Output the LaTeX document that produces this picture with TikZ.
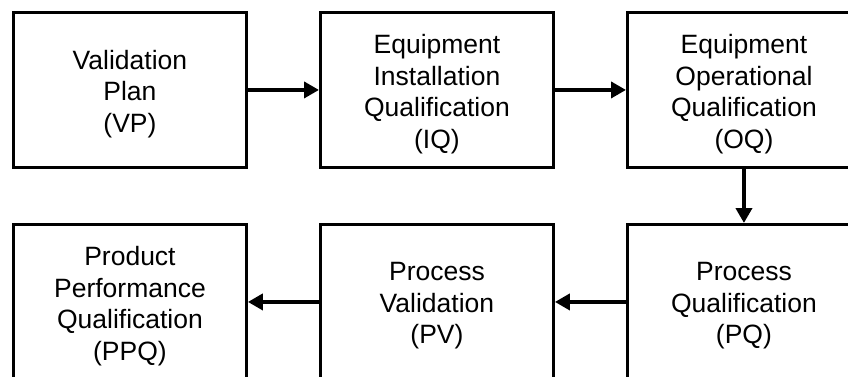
\documentclass[tikz,border=0pt]{standalone}
\usepackage{fontspec}
\setmainfont{Liberation Sans}
\usetikzlibrary{arrows.meta}
\begin{document}
\begin{tikzpicture}[x=1pt,y=-1pt,
  stage/.style={draw=black, line width=2.9pt, minimum width=233pt, minimum height=155pt,
    inner sep=0pt, anchor=north west},
  caption/.style={align=center, inner sep=0pt, font=\fontsize{26.5}{31.6}\selectfont},
  flow/.style={line width=3.8pt, -{Triangle[length=15pt,width=16pt]}}]
\useasboundingbox (0,0) rectangle (848,377);
\clip (0,0) rectangle (848,377);
% upper row: equipment stages
\node[stage] (vp) at (12,11) {};
\node[stage] (iq) at (319,11) {};
\node[stage] (oq) at (626,11) {};
% lower row: process and product stages
\node[stage] (pq) at (626,223) {};
\node[stage] (pv) at (319,223) {};
\node[stage] (ppq) at (12,223) {};
% stage names
\node[caption] (vp-t) at ([yshift=-4pt]vp.center) {Validation\\Plan\\(VP)};
\node[caption] (iq-t) at ([yshift=-4pt]iq.center) {Equipment\\Installation\\Qualification\\(IQ)};
\node[caption] (oq-t) at ([yshift=-4pt]oq.center) {Equipment\\Operational\\Qualification\\(OQ)};
\node[caption] (pq-t) at ([yshift=-4pt]pq.center) {Process\\Qualification\\(PQ)};
\node[caption] (pv-t) at ([yshift=-4pt]pv.center) {Process\\Validation\\(PV)};
\node[caption] (ppq-t) at ([yshift=-4pt]ppq.center) {Product\\Performance\\Qualification\\(PPQ)};
% flow between stages
\draw[flow] (vp.east) -- (iq.west);
\draw[flow] (iq.east) -- (oq.west);
\draw[flow] (oq.south) -- (pq.north);
\draw[flow] (pq.west) -- (pv.east);
\draw[flow] (pv.west) -- (ppq.east);
\end{tikzpicture}
\end{document}
